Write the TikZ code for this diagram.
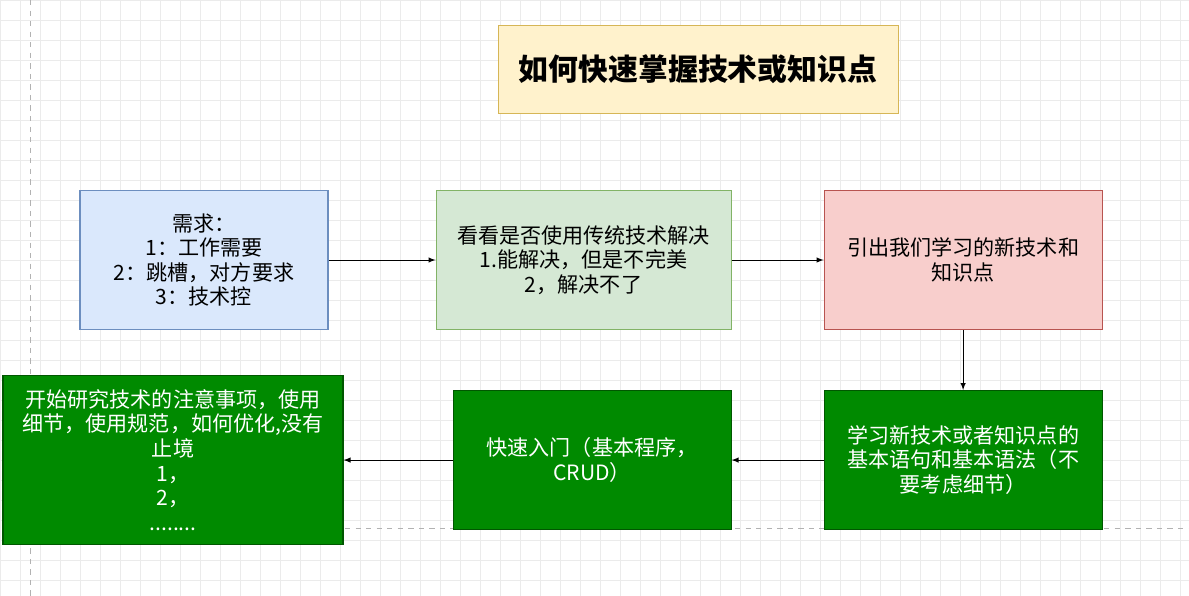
\documentclass[tikz,border=0pt]{standalone}
\usepackage{fontspec}
\setmainfont{Noto Sans CJK SC}
\usetikzlibrary{positioning,arrows}
\definecolor{ylw}{HTML}{FFF2CC}\definecolor{ylwd}{HTML}{D6B656}
\definecolor{blu}{HTML}{DAE8FC}\definecolor{blud}{HTML}{6C8EBF}
\definecolor{grn}{HTML}{D5E8D4}\definecolor{grnd}{HTML}{82B366}
\definecolor{red}{HTML}{F8CECC}\definecolor{redd}{HTML}{B85450}
\definecolor{dgrn}{HTML}{008A00}\definecolor{dgrnd}{HTML}{005700}
\tikzstyle{box}=[draw, minimum height=2.78cm, minimum width=5.56cm, align=center, font=\fontsize{12}{14}\selectfont, line width=0.6pt]
\tikzstyle{dark}=[box, fill=dgrn, draw=dgrnd, text=white]
\begin{document}
\begin{tikzpicture}[node distance=2cm,auto,>=latex]
\useasboundingbox (0,0) rectangle (23.78,-11.92);
\draw[black!8, step=0.4] (0,0) grid (23.78,-11.92);
\draw[black!30, dashed] (0.6,0) -- (0.6,-11.92);
\draw[black!30, dashed] (6.9,-10.56) -- (23.78,-10.56);

\node[draw=ylwd, fill=ylw, minimum width=8cm, minimum height=1.76cm, font=\fontsize{17}{20}\selectfont\bfseries] at (13.96,-1.38) (title) {如何快速掌握技术或知识点};

\node[box, fill=blu, draw=blud, minimum width=4.96cm] at (4.08,-5.2) (need) {需求：\\1：工作需要\\2：跳槽，对方要求\\3：技术控};
\node[box, fill=grn, draw=grnd, minimum width=5.9cm, right=2.14cm of need] (old) {看看是否使用传统技术解决\\1.能解决，但是不完美\\2，解决不了};
\node[box, fill=red, draw=redd, right=1.84cm of old] (new) {引出我们学习的新技术和\\知识点};
\node[dark, below=1.2cm of new] (learn) {学习新技术或者知识点的\\基本语句和基本语法（不\\要考虑细节）};
\node[dark, left=1.84cm of learn] (quick) {快速入门（基本程序，\\CRUD）};
\node[dark, minimum width=6.8cm, minimum height=3.38cm, left=2.18cm of quick] (study) {开始研究技术的注意事项，使用\\细节，使用规范，如何优化,没有\\止境\\1，\\2，\\........};

\draw[->] (need) -- (old);
\draw[->] (old) -- (new);
\draw[->] (new) -- (learn);
\draw[->] (learn) -- (quick);
\draw[->] (quick) -- (study);
\end{tikzpicture}
\end{document}
